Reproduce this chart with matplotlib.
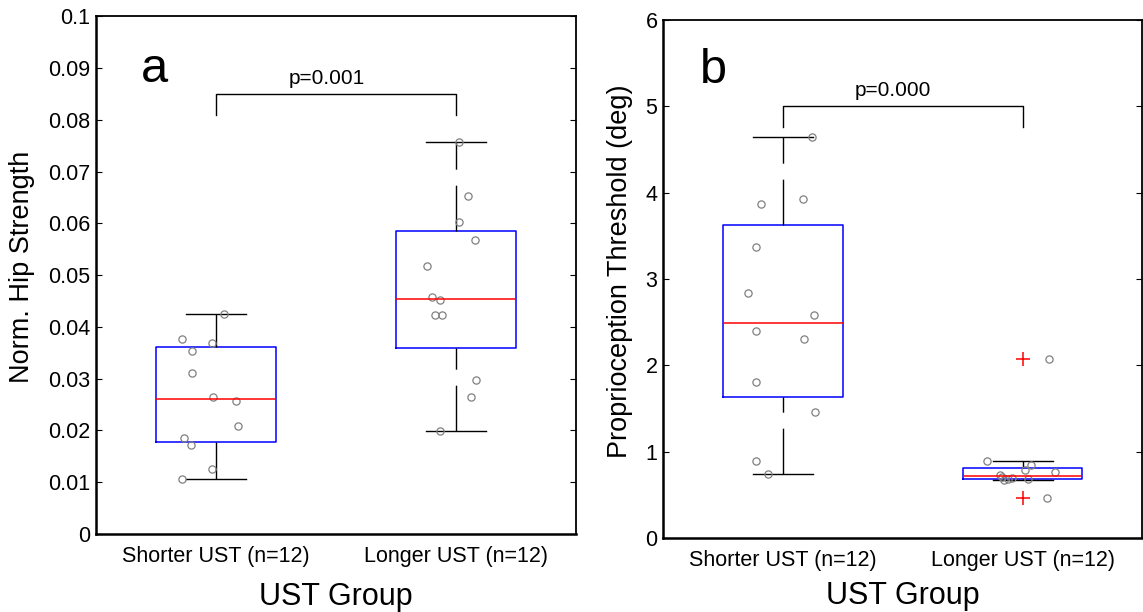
import numpy as np
import matplotlib.pyplot as plt

plt.rcParams['font.family'] = ['Liberation Sans', 'DejaVu Sans']

# data
groups = ['Shorter UST (n=12)', 'Longer UST (n=12)']

hip_short = [0.0376, 0.0425, 0.0369, 0.0353, 0.0310, 0.0264, 0.0257, 0.0208, 0.0185, 0.0172, 0.0126, 0.0106]
hip_long = [0.0758, 0.0652, 0.0603, 0.0567, 0.0517, 0.0458, 0.0451, 0.0422, 0.0422, 0.0297, 0.0264, 0.0198]
hip_short_jit = [-0.142, 0.035, -0.015, -0.099, -0.099, -0.014, 0.085, 0.093, -0.135, -0.105, -0.015, -0.142]
hip_long_jit = [0.013, 0.048, 0.013, 0.077, -0.122, -0.101, -0.066, -0.087, -0.058, 0.084, 0.063, -0.065]

prop_short = [4.649, 3.873, 3.930, 3.375, 2.842, 2.583, 2.398, 2.305, 1.807, 1.460, 0.888, 0.737]
prop_long = [2.070, 0.892, 0.840, 0.790, 0.761, 0.731, 0.705, 0.695, 0.685, 0.672, 0.463, 0.680]
prop_short_jit = [0.123, -0.091, 0.083, -0.111, -0.144, 0.129, -0.111, 0.089, -0.111, 0.136, -0.111, -0.063]
prop_long_jit = [0.109, -0.149, 0.037, 0.010, 0.136, -0.096, -0.086, -0.044, 0.023, -0.076, 0.104, -0.062]

hip_ticks = [0, 0.01, 0.02, 0.03, 0.04, 0.05, 0.06, 0.07, 0.08, 0.09, 0.1]
hip_ticklabels = ['0', '0.01', '0.02', '0.03', '0.04', '0.05', '0.06', '0.07', '0.08', '0.09', '0.1']
prop_ticks = [0, 1, 2, 3, 4, 5, 6]

p_hip = 'p=0.001'
p_prop = 'p=0.000'


def box_stats(vals):
    # matlab style quartiles (midpoint)
    v = np.asarray(vals)
    q1, med, q3 = np.percentile(v, [25, 50, 75], method='hazen')
    iqr = q3 - q1
    inside = v[(v >= q1 - 1.5 * iqr) & (v <= q3 + 1.5 * iqr)]
    fl = v[(v < q1 - 1.5 * iqr) | (v > q3 + 1.5 * iqr)]
    return dict(med=med, q1=q1, q3=q3, whislo=inside.min(), whishi=inside.max(), fliers=fl)


def draw_panel(ax, data, jits, letter, letter_xy, ptext, bracket, ylim):
    stats = [box_stats(d) for d in data]
    bp = ax.bxp(stats, positions=[1, 2], widths=0.5, capwidths=0.25,
                boxprops=dict(color='#0000ff', lw=1.1),
                medianprops=dict(color='#ff0000', lw=1.1),
                whiskerprops=dict(color='black', lw=1, linestyle=(0, (33, 11.5))),
                capprops=dict(color='black', lw=1),
                flierprops=dict(marker='+', markeredgecolor='#ff0000', markersize=10,
                                markeredgewidth=1.1, linestyle='none'))
    # dash pattern runs from the bottom upward in the original
    for w in bp['whiskers']:
        w.set_ydata(sorted(w.get_ydata()))
    for i, (d, j) in enumerate(zip(data, jits)):
        ax.plot(np.array(j) + i + 1, d, 'o', mfc='none', mec='#808080', mew=0.9, ms=5.2)

    lo, top = bracket
    span = ylim[1] - ylim[0]
    ax.plot([1, 1, 2, 2], [lo, top, top, lo], color='black', lw=1)
    ax.text(1.46, top + span * 0.012, ptext, ha='center', va='bottom', fontsize=15)
    ax.text(letter_xy[0], letter_xy[1], letter, ha='left', va='baseline', fontsize=35)

    ax.set_xlim(0.5, 2.5)
    ax.set_ylim(*ylim)
    ax.set_xticks([1, 2])
    ax.set_xticklabels(groups, fontsize=15.5)
    ax.tick_params(axis='x', length=0, pad=9)
    ax.tick_params(axis='y', direction='in', length=4.5, right=True, labelsize=15.5, pad=4)
    ax.set_xlabel('UST Group', fontsize=22)
    for s in ax.spines.values():
        s.set_linewidth(1.3)
    ax.spines['left'].set_linewidth(1.8)
    ax.spines['bottom'].set_linewidth(1.8)


fig = plt.figure(figsize=(11.43, 6.12), dpi=100)
ax1 = fig.add_axes([0.084, 0.1275, 0.42, 0.846])
ax2 = fig.add_axes([0.580, 0.121, 0.4195, 0.846])

draw_panel(ax1, [hip_short, hip_long], [hip_short_jit, hip_long_jit], 'a', (0.685, 0.0872), p_hip,
           (0.081, 0.085), (0, 0.1))
ax1.set_yticks(hip_ticks)
ax1.set_yticklabels(hip_ticklabels)
ax1.set_ylabel('Norm. Hip Strength', fontsize=19.5)
ax1.yaxis.set_label_coords(-0.127, 0.515)
ax1.xaxis.set_label_coords(0.5, -0.092)

draw_panel(ax2, [prop_short, prop_long], [prop_short_jit, prop_long_jit], 'b', (0.655, 5.27), p_prop,
           (4.76, 5.0), (0, 6))
ax2.set_yticks(prop_ticks)
ax2.set_ylabel('Proprioception Threshold (deg)', fontsize=19.5)
ax2.yaxis.set_label_coords(-0.063, 0.515)
ax2.xaxis.set_label_coords(0.5, -0.084)

fig.savefig('out.png', dpi=100)
